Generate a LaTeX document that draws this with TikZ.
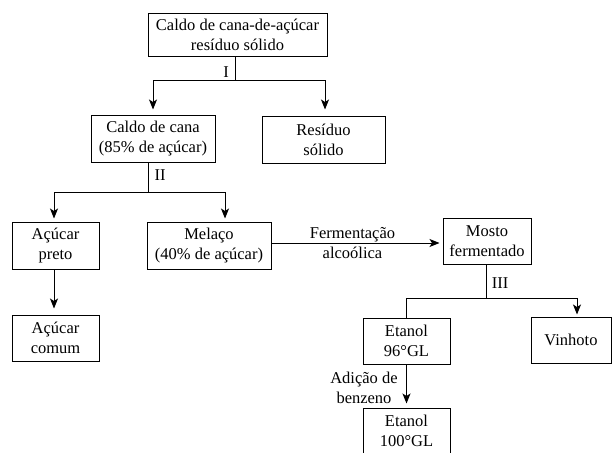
\documentclass[tikz,border=0pt]{standalone}
\usepackage{fontspec}
\setmainfont{Liberation Serif}
\usetikzlibrary{arrows.meta}
\begin{document}
\begin{tikzpicture}[x=1pt,y=-1pt,
  every node/.style={font=\fontsize{16.5}{20}\selectfont},
  box/.style={draw, line width=1pt, align=center, inner sep=0pt},
  lbl/.style={align=center, inner sep=0pt},
  conn/.style={line width=1pt},
  arr/.style={line width=1pt, -{Stealth[length=10pt,width=8pt,inset=2.5pt]}}]
\useasboundingbox (0,0) rectangle (612,452);
\clip (0,0) rectangle (612,452);
% boxes
\node[box, minimum width=179pt, minimum height=42pt] (top) at (237.5,35) {Caldo de cana-de-açúcar\\resíduo sólido};
\node[box, minimum width=124pt, minimum height=47pt] (caldo) at (153,138.5) {Caldo de cana\\(85\% de açúcar)};
\node[box, minimum width=123pt, minimum height=47pt] (residuo) at (323.5,139.5) {Resíduo\\sólido};
\node[box, minimum width=87pt, minimum height=47pt] (preto) at (55.5,245.5) {Açúcar\\preto};
\node[box, minimum width=124pt, minimum height=47pt] (melaco) at (209,245.5) {Melaço\\(40\% de açúcar)};
\node[box, minimum width=88pt, minimum height=46pt] (mosto) at (487,241) {Mosto\\fermentado};
\node[box, minimum width=87pt, minimum height=46pt] (comum) at (55.5,338) {Açúcar\\comum};
\node[box, minimum width=87pt, minimum height=46pt] (et96) at (406.5,341) {Etanol\\96°GL};
\node[box, minimum width=80pt, minimum height=46pt] (vinhoto) at (571,340) {Vinhoto};
\node[box, minimum width=87pt, minimum height=46pt] (et100) at (406.5,431) {Etanol\\100°GL};
% labels
\node[lbl] (l1) at (226,72) {I};
\node[lbl] (l2) at (160,175) {II};
\node[lbl] (l3) at (500,283) {III};
\node[lbl] (ferm) at (352.5,243) {Fermentação\\alcoólica};
\node[lbl] (adic) at (364,388) {Adição de\\benzeno};
% branch points
\coordinate (s1) at (235,80);
\coordinate (s2) at (148,192);
\coordinate (s3) at (486,298);
% connectors
\draw[conn] (top.south -| s1) -- (s1);
\draw[arr, shorten >=5pt] (s1) -| (caldo.north);
\draw[arr, shorten >=6pt] (s1) -| ([xshift=1.5pt]residuo.north);
\draw[conn] (caldo.south -| s2) -- (s2);
\draw[arr, shorten >=3pt] (s2) -| ([xshift=-1.5pt]preto.north);
\draw[arr, shorten >=3pt] (s2) -| ([xshift=16pt]melaco.north);
\draw[arr, shorten >=6pt] ([xshift=-1.5pt]preto.south) -- ([xshift=-1.5pt]comum.north);
\draw[arr, shorten >=3pt] (melaco.east |- ferm) -- (mosto.west |- ferm);
\draw[conn] (mosto.south -| s3) -- (s3);
\draw[conn] (s3) -| (et96.north);
\draw[arr, shorten >=2pt] (s3) -| ([xshift=6pt]vinhoto.north);
\draw[arr, shorten >=4pt] (et96.south) -- (et100.north);
\end{tikzpicture}
\end{document}
